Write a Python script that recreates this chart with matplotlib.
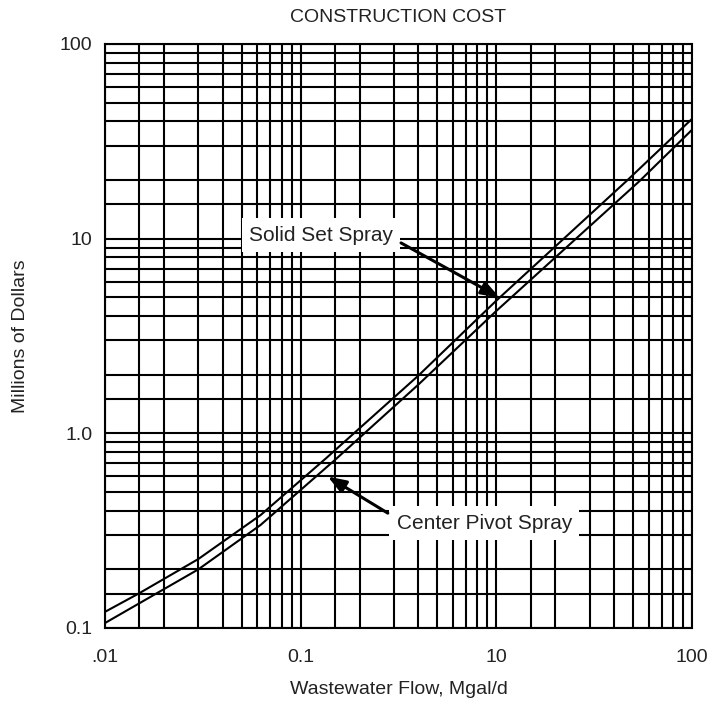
import matplotlib
matplotlib.use('Agg')
import matplotlib.pyplot as plt
import numpy as np

plt.rcParams['font.family'] = ['Liberation Sans', 'DejaVu Sans']

# flow (Mgal/d, axis position) and cost (millions of dollars)
solid_x = [0.01, 0.015, 0.03, 0.0624, 0.134, 0.4, 1.0, 4.64, 10.0]
solid_y = [0.121, 0.151, 0.226, 0.38, 0.74, 1.98, 4.8, 19.8, 41.2]
pivot_x = [0.01, 0.015, 0.03, 0.0624, 0.151, 0.4, 1.0, 5.41, 10.0]
pivot_y = [0.106, 0.134, 0.2, 0.338, 0.735, 1.78, 4.25, 19.8, 36.2]

x_ticks = [0.01, 0.1, 1.0, 10.0]
x_ticklabels = ['.01', '0.1', '10', '100']
y_ticks = [0.1, 1.0, 10.0, 100.0]
y_ticklabels = ['0.1', '1.0', '10', '100']

# grid lines at 1, 1.5, 2..9 of every decade
steps = [1, 1.5, 2, 3, 4, 5, 6, 7, 8, 9]
x_grid = [s * d for d in [0.01, 0.1, 1.0] for s in steps] + [10.0]
y_grid = [s * d for d in [0.1, 1.0, 10.0] for s in steps] + [100.0]

fig = plt.figure(figsize=(7.09, 7.08), dpi=100)
ax = fig.add_axes([0.148, 0.113, 0.828, 0.825])
ax.set_xscale('log')
ax.set_yscale('log')
ax.set_xlim(0.01, 10)
ax.set_ylim(0.1, 100)

lw = 1.5
for gx in x_grid:
    ax.axvline(gx, color='black', lw=lw, zorder=1)
for gy in y_grid:
    ax.axhline(gy, color='black', lw=lw, zorder=1)

ax.plot(solid_x, solid_y, color='black', lw=lw, zorder=3)
ax.plot(pivot_x, pivot_y, color='black', lw=lw, zorder=3)

ax.set_xticks(x_ticks)
ax.set_xticklabels(x_ticklabels)
ax.set_yticks(y_ticks)
ax.set_yticklabels(y_ticklabels)
ax.xaxis.set_minor_locator(matplotlib.ticker.NullLocator())
ax.yaxis.set_minor_locator(matplotlib.ticker.NullLocator())
ax.tick_params(length=0, labelsize=14, colors='#222222')
ax.tick_params(axis='x', pad=15)
ax.tick_params(axis='y', pad=9)
for sp in ax.spines.values():
    sp.set_linewidth(lw)

box = dict(boxstyle='square,pad=0.35', fc='white', ec='none')
ax.text(0.127, 10.4, 'Solid Set Spray', fontsize=15, ha='center', va='center',
        color='#222222', bbox=box, zorder=4)
ax.text(0.87, 0.345, 'Center Pivot Spray', fontsize=15, ha='center', va='center',
        color='#222222', bbox=box, zorder=4)

arrow = dict(arrowstyle='-|>,head_length=1.1,head_width=0.4', color='black',
             lw=2.2, shrinkA=0, shrinkB=0)
ax.annotate('', xy=(1.04, 4.98), xytext=(0.326, 9.5), arrowprops=arrow, zorder=5)
ax.annotate('', xy=(0.1375, 0.6), xytext=(0.279, 0.389), arrowprops=arrow, zorder=5)

ax.set_title('CONSTRUCTION COST', fontsize=14, color='#222222', pad=16)
ax.set_xlabel('Wastewater Flow, Mgal/d', fontsize=14, color='#222222', labelpad=11)
ax.set_ylabel('Millions of Dollars', fontsize=14, color='#222222', labelpad=22)

fig.savefig('out.png', dpi=100)
